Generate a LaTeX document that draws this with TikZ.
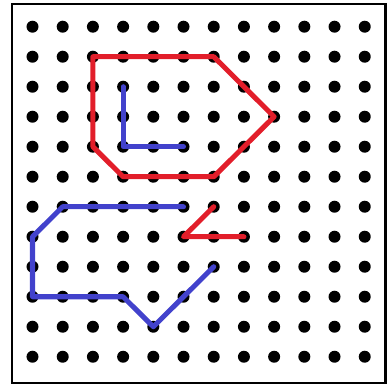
\documentclass[tikz,border=0pt]{standalone}
\definecolor{penred}{RGB}{226,30,42}
\definecolor{penblue}{RGB}{66,66,204}
\tikzset{
  dot/.style={fill=black},
  redpath/.style={draw=penred, line width=4.3pt, line join=round, line cap=round},
  bluepath/.style={draw=penblue, line width=4.3pt, line join=round, line cap=round}
}
\begin{document}
\begin{tikzpicture}[x=0.906cm, y=0.9cm]
        \useasboundingbox (-1.076, 0.89) rectangle (11.77, -11.943);
        \draw[line width=2pt] (-0.679, 0.757) rectangle (11.69, -11.877);

        %%dots
        \foreach \i in {0,...,11}
          \foreach \j in {0,...,11}{
            \coordinate (p\i-\j) at (\i, -\j);
            \fill[dot] (p\i-\j) circle (0.18cm);
          }

        %%big red
        \draw[redpath] (p2-1) -- (p6-1) -- (p8-3) -- (p6-5) -- (p3-5) -- (p2-4) -- cycle;

        %%blue L
        \draw[bluepath] (p3-2) -- (p3-4) -- (p5-4);

        %%small red
        \draw[redpath] (p6-6) -- (p5-7) -- (p7-7);

        %%lower blue
        \draw[bluepath] (p5-6) -- (p1-6) -- (p0-7) -- (p0-9) -- (p3-9) -- (p4-10) -- (p6-8);
\end{tikzpicture}
\end{document}
